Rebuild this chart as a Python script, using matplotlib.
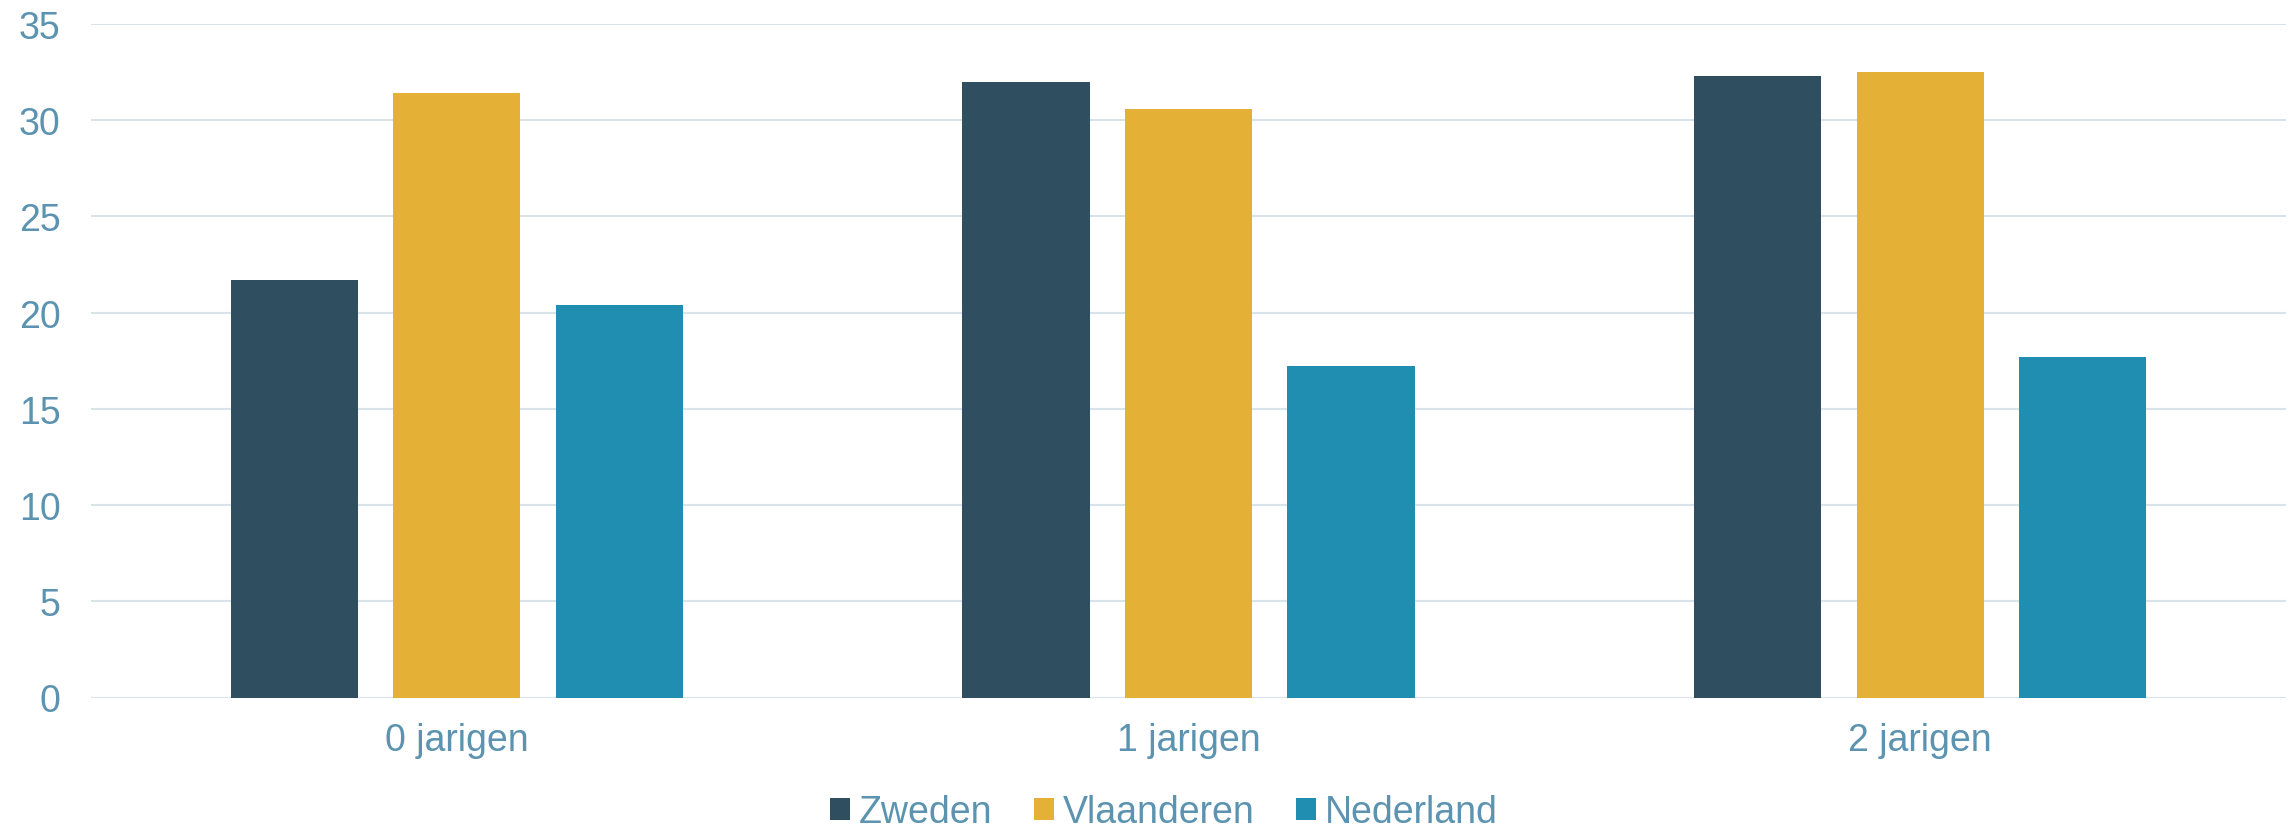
import matplotlib
matplotlib.use("Agg")
import matplotlib.pyplot as plt
import numpy as np

categories = ["0 jarigen", "1 jarigen", "2 jarigen"]
series_names = ["Zweden", "Vlaanderen", "Nederland"]
zweden = [21.7, 32.0, 32.3]
vlaanderen = [31.4, 30.6, 32.5]
nederland = [20.4, 17.25, 17.7]
yticks = [0, 5, 10, 15, 20, 25, 30, 35]

colors = ["#2F4F60", "#E5B036", "#1F8EB0"]
text_color = "#5B93B0"
grid_color = "#D9E3EA"

plt.rcParams['font.family'] = ['Liberation Sans', 'DejaVu Sans']

fig = plt.figure(figsize=(22.95, 8.29), dpi=100)
ax = fig.add_axes([91/2295, 130.5/829, (2286-91)/2295, (698.5-24.9)/829])

x = np.arange(len(categories))
width = 0.174
step = 0.222
for i, (name, vals) in enumerate(zip(series_names, [zweden, vlaanderen, nederland])):
    ax.bar(x + (i - 1) * step, vals, width=width, color=colors[i], label=name, zorder=3)

ax.set_xlim(-0.5, len(categories) - 0.5)
ax.set_ylim(0, 35)
ax.set_yticks(yticks)
ax.set_xticks(x)
ax.set_xticklabels(categories)
ax.yaxis.grid(True, color=grid_color, linewidth=1.5, zorder=0)
ax.set_axisbelow(True)
for s in ax.spines.values():
    s.set_visible(False)
ax.tick_params(axis='both', length=0, labelsize=27, labelcolor=text_color)
ax.tick_params(axis='y', pad=22)
ax.tick_params(axis='x', pad=18)

handles, labels = ax.get_legend_handles_labels()
leg = fig.legend(handles, labels, loc='center', bbox_to_anchor=(1164/2295, 1 - 813/829),
                 ncol=3, frameon=False, fontsize=27, handlelength=0.53, handleheight=0.53,
                 handletextpad=0.25, columnspacing=1.1, borderaxespad=0, borderpad=0)
for t in leg.get_texts():
    t.set_color(text_color)

fig.savefig("out.png", dpi=100, facecolor="white")
